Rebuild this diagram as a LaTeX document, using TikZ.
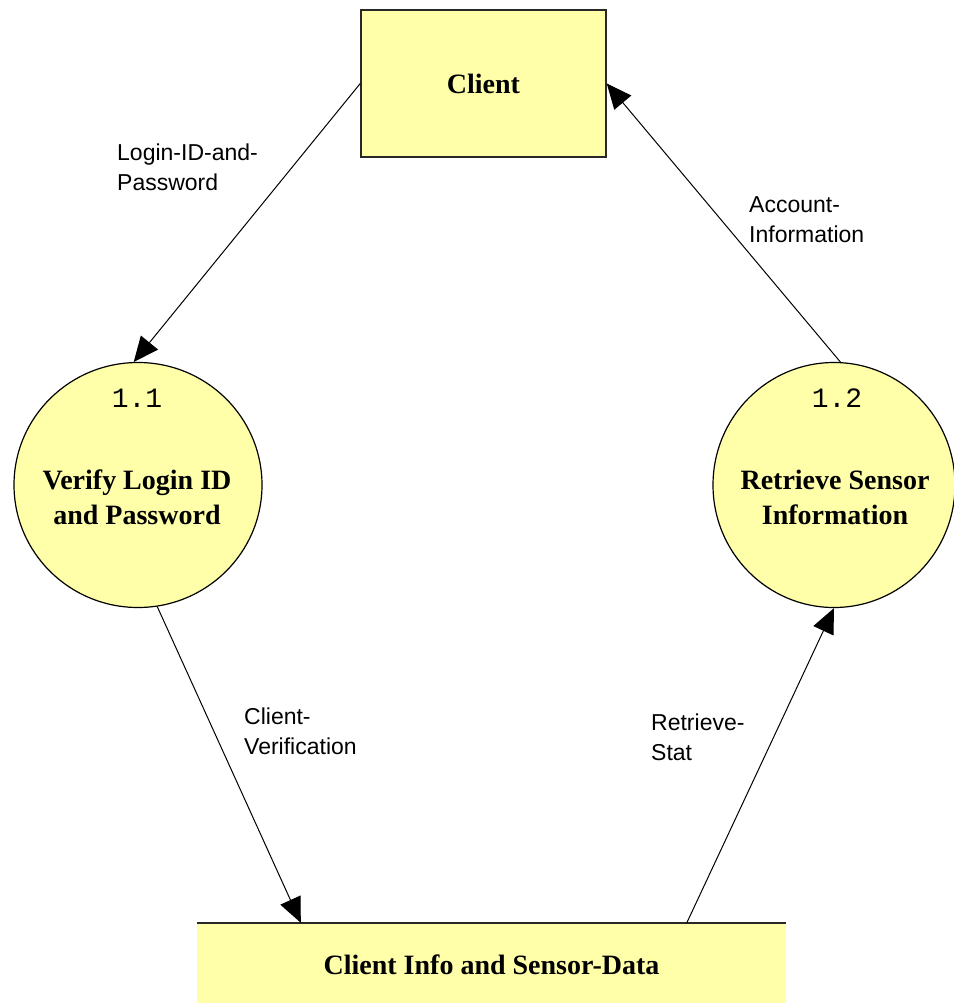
\documentclass[tikz,border=0pt]{standalone}
\usepackage{fontspec}
\setmainfont{Liberation Serif}
\newfontfamily\lblfont{Liberation Sans}
\newfontfamily\numfont{Liberation Mono}
\usetikzlibrary{shapes.geometric,arrows.meta}
\definecolor{dfdfill}{RGB}{255,255,170}
\definecolor{dfdedge}{RGB}{40,40,40}
\tikzset{
  entitybox/.style={rectangle, fill=dfdfill, draw=dfdedge, line width=1.5pt, inner sep=0pt,
    minimum width=245pt, minimum height=147pt, font=\fontsize{28}{35}\selectfont\bfseries},
  procbubble/.style={ellipse, fill=dfdfill, draw=black, line width=1.2pt, inner sep=0pt,
    minimum width=248pt, minimum height=245pt},
  proctext/.style={align=center, inner sep=0pt, font=\fontsize{28}{35}\selectfont\bfseries},
  procnum/.style={inner sep=0pt, font=\fontsize{28}{32}\selectfont\numfont},
  storebox/.style={rectangle, fill=dfdfill, inner sep=0pt, minimum width=589pt, minimum height=80pt,
    font=\fontsize{28}{35}\selectfont\bfseries},
  flowlabel/.style={align=left, anchor=west, inner sep=0pt, font=\fontsize{23}{30}\selectfont\lblfont},
  flow/.style={line width=1pt, -{Triangle[length=25pt,width=22pt]}},
}
\begin{document}
\begin{tikzpicture}[x=1pt,y=-1pt]
\useasboundingbox (0,0) rectangle (953,1003);
% nodes
\node[entitybox] (client) at (483.5,83.5) {Client};
\node[procbubble] (p11) at (138,485) {};
\node[procnum] (n11) at (137,398) {1.1};
\node[proctext] (t11) at (137,497) {Verify Login ID\\and Password};
\node[procbubble, minimum width=242pt] (p12) at (834,485) {};
\node[procnum] (n12) at (837,398) {1.2};
\node[proctext] (t12) at (835,497) {Retrieve Sensor\\Information};
\node[storebox] (store) at (491.5,963) {};
\node[inner sep=0pt, font=\fontsize{28}{35}\selectfont\bfseries] (storetext) at (491.5,965) {Client Info and Sensor-Data};
\draw[dfdedge, line width=1.5pt] (store.north west) -- (store.north east);
% flows
\draw[flow] (client.west) -- (p11.92);
\draw[flow] (p12.87) -- (client.east);
\draw[flow] (p11.-81) -- ([xshift=104pt]store.north west);
\draw[flow] ([xshift=490pt]store.north west) -- (p12.south);
% labels
\node[flowlabel] (l1) at (117,167) {Login-ID-and-\\Password};
\node[flowlabel] (l2) at (749,220) {Account-\\Information};
\node[flowlabel] (l3) at (244,731) {Client-\\Verification};
\node[flowlabel] (l4) at (651,737) {Retrieve-\\Stat};
\end{tikzpicture}
\end{document}
